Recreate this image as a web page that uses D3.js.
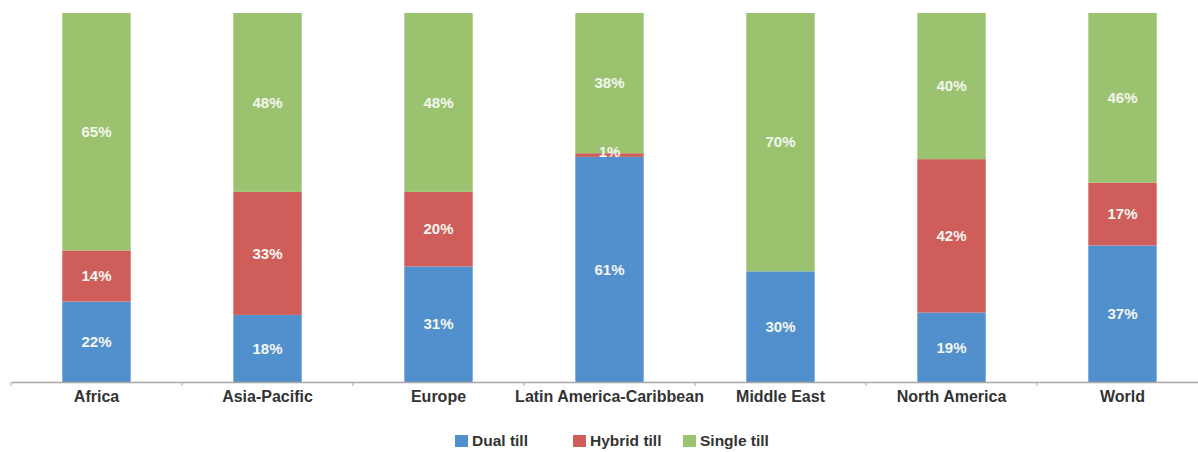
<!DOCTYPE html>
<html><head><meta charset="utf-8">
<script src="https://cdn.jsdelivr.net/npm/d3@7"></script>
<style>
body{margin:0;background:#fff;}
svg{display:block;}
.lab{font-family:"Liberation Sans","Arial",sans-serif;}
</style></head>
<body><svg id="c" width="1198" height="452"></svg>
<script>
const categories = ["Africa","Asia-Pacific","Europe","Latin America-Caribbean","Middle East","North America","World"];
const seriesNames = ["Dual till","Hybrid till","Single till"];
const dualTill   = [22,18,31,61,30,19,37];
const hybridTill = [14,33,20,1,0,42,17];
const singleTill = [65,48,48,38,70,40,46];
const colors = ["#5290cd","#cf5e5a","#9bc36f"];

const svg = d3.select("#c");
const rows = categories.map((c,i)=>({cat:c,"Dual till":dualTill[i],"Hybrid till":hybridTill[i],"Single till":singleTill[i]}));
const stack = d3.stack().keys(seriesNames).offset(d3.stackOffsetExpand);
const layers = stack(rows);

const x = d3.scaleBand().domain(categories).range([11,1208]).paddingInner(0.6).paddingOuter(0.3);
const y = d3.scaleLinear().domain([0,1]).range([382,13]);
const color = d3.scaleOrdinal().domain(seriesNames).range(colors);

const gBars = svg.append("g");
const gText = svg.append("g");
layers.forEach((layer)=>{
  const key = layer.key;
  gBars.selectAll(null).data(layer).enter().append("rect")
    .attr("x",d=>x(d.data.cat)).attr("width",x.bandwidth())
    .attr("y",d=>y(d[1])).attr("height",d=>y(d[0])-y(d[1]))
    .attr("fill",color(key));
  gText.selectAll(null).data(layer.filter(d=>d.data[key]>0)).enter().append("text")
    .attr("class","lab")
    .attr("x",d=>x(d.data.cat)+x.bandwidth()/2)
    .attr("y",d=>(y(d[0])+y(d[1]))/2 - (d.data[key]<3?3:0))
    .attr("dy","0.35em").attr("text-anchor","middle")
    .attr("fill","#f4f6f0").attr("font-size",15).attr("font-weight","bold")
    .text(d=>d.data[key]+"%");
});

// axis
const axis = d3.axisBottom(x).tickSize(0).tickPadding(9);
const ax = svg.append("g").attr("transform","translate(0,382)").call(axis);
ax.select(".domain").attr("stroke","#a8a8a8").attr("stroke-width",1.5);
ax.selectAll("text").attr("class","lab").attr("font-size",16).attr("font-weight","bold").attr("fill","#333");
const bounds = categories.map(c=>x(c)-x.step()*x.paddingInner()/2).concat([x(categories[categories.length-1])+x.bandwidth()+x.step()*x.paddingInner()/2]);
ax.selectAll(".bt").data(bounds).enter().append("line")
  .attr("x1",d=>d).attr("x2",d=>d).attr("y1",0).attr("y2",4).attr("stroke","#a8a8a8");

// legend
const legX = [455,573,683];
const lg = svg.append("g").attr("transform","translate(0,441)");
seriesNames.forEach((s,i)=>{
  lg.append("rect").attr("x",legX[i]).attr("y",-6).attr("width",13).attr("height",12).attr("fill",colors[i]);
  lg.append("text").attr("class","lab").attr("x",legX[i]+17).attr("y",0).attr("dy","0.35em")
    .attr("font-size",15.5).attr("font-weight","bold").attr("fill","#333").text(s);
});
</script></body></html>
